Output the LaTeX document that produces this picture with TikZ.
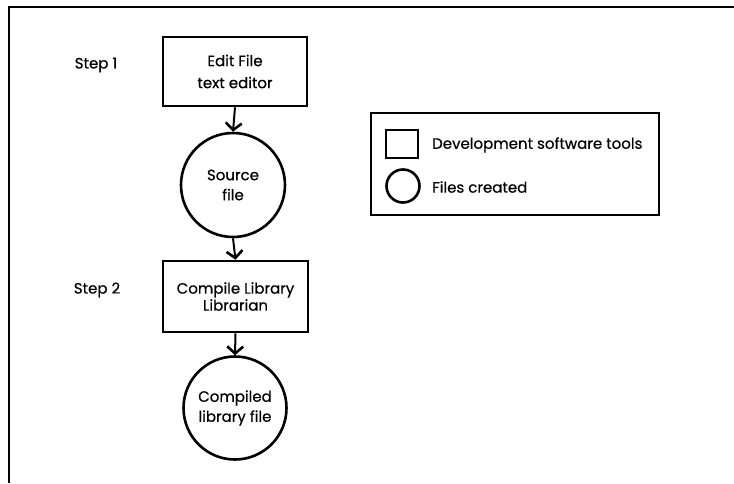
\documentclass[tikz,border=0pt]{standalone}
\usepackage{fontspec}
\setmainfont{Poppins}[FakeBold=0.5]
\usetikzlibrary{arrows.meta}
\begin{document}
\begin{tikzpicture}[x=1pt,y=-1pt,
  tool/.style={draw,line width=2.6pt,rectangle,inner sep=0pt,align=center,font=\fontsize{15}{20}\selectfont},
  file/.style={draw,line width=2.6pt,circle,inner sep=0pt,align=center,font=\fontsize{15}{20}\selectfont},
  lbl/.style={font=\fontsize{15}{19}\selectfont,inner sep=0pt},
  flow/.style={line width=2pt,-{Straight Barb[length=7pt,width=16pt,line width=2.6pt]}}]
\useasboundingbox (0,0) rectangle (734,483);
\draw[line width=1.3pt] (9,483) -- (9,7) -- (734,7);
\node[tool,minimum width=144pt,minimum height=69pt,font=\fontsize{15}{22}\selectfont] (b1) at (235,71.5) {Edit File\\text editor};
\node[file,minimum size=104pt] (c1) at (233,185) {Source\\file};
\node[tool,minimum width=145pt,minimum height=71pt,font=\fontsize{15}{17}\selectfont] (b2) at (235.5,296.5) {Compile Library\\Librarian};
\node[file,minimum size=103pt] (c2) at (235,408) {Compiled\\library file};
\draw[flow] (b1.south) -- (c1.north);
\draw[flow] (c1.south) -- (b2.north);
\draw[flow] (b2.south) -- (c2.north);
\node[lbl] (s1) at (96,65) {Step 1};
\node[lbl] (s2) at (97,290) {Step 2};
\node[draw,line width=2.6pt,minimum width=288pt,minimum height=102pt] (leg) at (515,164) {};
\node[draw,line width=2.6pt,minimum width=32pt,minimum height=28pt,inner sep=0pt] (lsq) at (402,144) {};
\node[draw,line width=2.6pt,circle,minimum size=33pt,inner sep=0pt] (lci) at (403,186) {};
\node[lbl,anchor=west] (t1) at (432,145) {Development software tools};
\node[lbl,anchor=west] (t2) at (432,187) {Files created};
\end{tikzpicture}
\end{document}
